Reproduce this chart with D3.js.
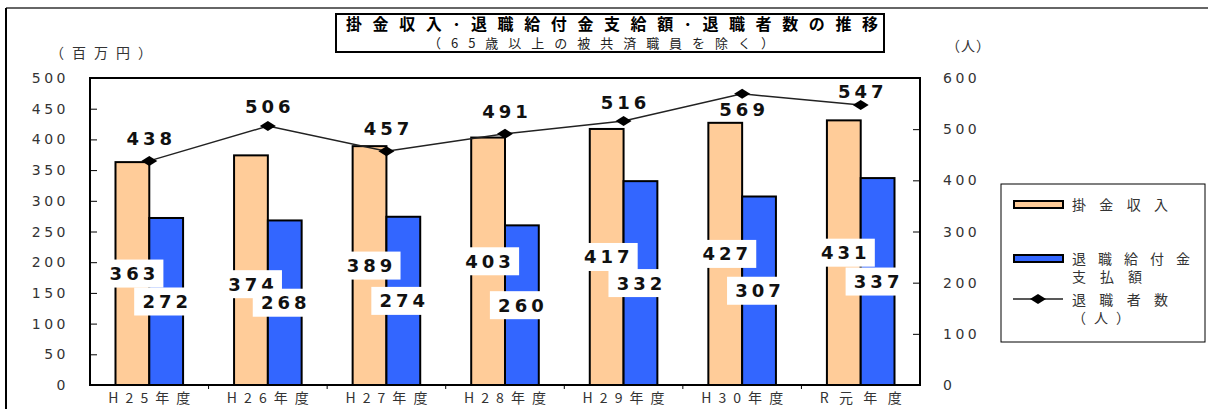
<!DOCTYPE html>
<html>
<head>
<meta charset="utf-8">
<script src="https://cdn.jsdelivr.net/npm/d3@7/dist/d3.min.js"></script>
<style>
	html,body{margin:0;padding:0;background:#fff;}
	svg{display:block;}
</style>
</head>
<body>
<div id="chart"></div>
<script>
// data
var categories = ["H25年度","H26年度","H27年度","H28年度","H29年度","H30年度","R元年度"];
var kakekin = [363,374,389,403,417,427,431];       // 掛金収入 (百万円)
var kyufu = [272,268,274,260,332,307,337];         // 退職給付金支払額 (百万円)
var taishokusha = [438,506,457,491,516,569,547];   // 退職者数 (人)
var leftTicks = [0,50,100,150,200,250,300,350,400,450,500];
var rightTicks = [0,100,200,300,400,500,600];

// layout
var W = 1208, H = 409;
var plot = {left:90, right:920, top:78, bottom:385};
var jp = "'Noto Sans CJK JP', sans-serif";
var num = "'DejaVu Sans', sans-serif";
var orange = "#ffcc99", blue = "#3366ff";
// line label placement (569 sits under its point)
var lineLabelDy = [-22,-20,-23,-22,-18,16,-14];
var barLabelDy = [0,14,0,0,0,0,0];

var svg = d3.select("#chart").append("svg")
	.attr("width",W).attr("height",H)
	.style("font-family",jp);

// outer frame
svg.append("line").attr("x1",6).attr("x2",W).attr("y1",8).attr("y2",8)
	.attr("stroke","#666").attr("stroke-width",2);
svg.append("line").attr("x1",6).attr("x2",6).attr("y1",8).attr("y2",H)
	.attr("stroke","#000").attr("stroke-width",2);

// title
svg.append("rect").attr("x",336).attr("y",14).attr("width",548).attr("height",38)
	.attr("fill","#fff").attr("stroke","#000").attr("stroke-width",2);
svg.append("text").attr("x",612).attr("y",30).attr("text-anchor","middle")
	.attr("textLength",532).attr("lengthAdjust","spacing")
	.style("font-size","16px").style("font-weight","bold")
	.text("掛金収入･退職給付金支給額･退職者数の推移");
svg.append("text").attr("x",601).attr("y",48).attr("text-anchor","middle")
	.attr("textLength",346).attr("lengthAdjust","spacing")
	.style("font-size","13px").attr("fill","#222")
	.text("（65歳以上の被共済職員を除く）");

// units
svg.append("text").attr("x",50).attr("y",58).attr("textLength",102).attr("lengthAdjust","spacing")
	.style("font-size","14px").attr("fill","#333").text("（百万円）");
svg.append("text").attr("x",946).attr("y",51).attr("textLength",44).attr("lengthAdjust","spacing")
	.style("font-size","14px").attr("fill","#333").text("（人）");

// scales
var x = d3.scaleBand().domain(categories).range([plot.left,plot.right]).padding(0);
var yL = d3.scaleLinear().domain([0,500]).range([plot.bottom,plot.top]);
var yR = d3.scaleLinear().domain([0,600]).range([plot.bottom,plot.top]);
var barW = x.bandwidth()*0.285;
var cx = function(d){ return x(d)+x.bandwidth()/2; };

// axes
var gL = svg.append("g").attr("transform","translate("+plot.left+",0)")
	.call(d3.axisRight(yL).tickValues(leftTicks).tickSize(7).tickFormat(""));
var gR = svg.append("g").attr("transform","translate("+plot.right+",0)")
	.call(d3.axisLeft(yR).tickValues(rightTicks).tickSize(7).tickFormat(""));
[gL,gR].forEach(function(g){
	g.select(".domain").remove();
	g.selectAll(".tick line").attr("stroke","#000").attr("stroke-width",1);
});
svg.append("g").selectAll("text").data(leftTicks).join("text")
	.attr("x",69).attr("y",function(d){return yL(d);}).attr("dy","0.36em")
	.attr("text-anchor","end").style("font-family",num).style("font-size","14px")
	.style("letter-spacing","3.5px").attr("fill","#333")
	.text(function(d){return d;});
svg.append("g").selectAll("text").data(rightTicks).join("text")
	.attr("x",943).attr("y",function(d){return yR(d);}).attr("dy","0.36em")
	.attr("text-anchor","start").style("font-family",num).style("font-size","14px")
	.style("letter-spacing","3.5px").attr("fill","#333")
	.text(function(d){return d;});

// category ticks + labels
svg.append("g").selectAll("line").data(categories.slice(1)).join("line")
	.attr("x1",function(d){return x(d);}).attr("x2",function(d){return x(d);})
	.attr("y1",plot.bottom).attr("y2",plot.bottom+4).attr("stroke","#000");
svg.append("g").selectAll("text").data(categories).join("text")
	.attr("x",cx).attr("y",403).attr("text-anchor","middle")
	.attr("textLength",82).attr("lengthAdjust","spacing")
	.style("font-size","14px").attr("fill","#333")
	.text(function(d){return d;});

// bars
svg.append("g").selectAll("rect").data(kakekin).join("rect")
	.attr("x",function(d,i){return cx(categories[i])-barW;})
	.attr("y",function(d){return yL(d);})
	.attr("width",barW).attr("height",function(d){return plot.bottom-yL(d);})
	.attr("fill",orange).attr("stroke","#000").attr("stroke-width",2);
svg.append("g").selectAll("rect").data(kyufu).join("rect")
	.attr("x",function(d,i){return cx(categories[i]);})
	.attr("y",function(d){return yL(d);})
	.attr("width",barW).attr("height",function(d){return plot.bottom-yL(d);})
	.attr("fill",blue).attr("stroke","#000").attr("stroke-width",2);

// plot frame
svg.append("rect").attr("x",plot.left).attr("y",plot.top)
	.attr("width",plot.right-plot.left).attr("height",plot.bottom-plot.top)
	.attr("fill","none").attr("stroke","#000").attr("stroke-width",2);

// bar value labels (white boxes at bar mid-height)
function barLabels(vals,offset,dys){
	var g = svg.append("g").selectAll("g").data(vals).join("g")
		.attr("transform",function(d,i){
			var px = cx(categories[i])+offset;
			var py = (yL(d)+plot.bottom)/2+(dys?dys[i]:0);
			return "translate("+px+","+py+")";
		});
	g.append("rect").attr("x",-31).attr("y",-14).attr("width",62).attr("height",28).attr("fill","#fff");
	g.append("text").attr("text-anchor","middle").attr("dy","0.36em").attr("dx",2)
		.style("font-family",num).style("font-size","18px").style("font-weight","bold")
		.style("letter-spacing","4px").attr("fill","#111")
		.text(function(d){return d;});
}
barLabels(kakekin,-barW/2,barLabelDy);
barLabels(kyufu,barW/2-1,null);

// line
var line = d3.line().x(function(d,i){return cx(categories[i]);}).y(function(d){return yR(d);});
svg.append("path").datum(taishokusha).attr("d",line)
	.attr("fill","none").attr("stroke","#222").attr("stroke-width",1.5);
function diamond(px,py){
	var p = d3.path();
	p.moveTo(px-8,py); p.lineTo(px,py-5); p.lineTo(px+8,py); p.lineTo(px,py+5); p.closePath();
	return p.toString();
}
svg.append("g").selectAll("path").data(taishokusha).join("path")
	.attr("d",function(d,i){return diamond(cx(categories[i]),yR(d));}).attr("fill","#000");
svg.append("g").selectAll("text").data(taishokusha).join("text")
	.attr("x",function(d,i){return cx(categories[i])+2;})
	.attr("y",function(d,i){return yR(d)+lineLabelDy[i];}).attr("dy","0.36em")
	.attr("text-anchor","middle")
	.style("font-family",num).style("font-size","18px").style("font-weight","bold")
	.style("letter-spacing","4px").attr("fill","#111")
	.text(function(d){return d;});

// legend
var lg = svg.append("g");
lg.append("rect").attr("x",1001).attr("y",184).attr("width",204).attr("height",158)
	.attr("fill","#fff").attr("stroke","#000").attr("stroke-width",1);
lg.append("rect").attr("x",1014).attr("y",201).attr("width",49).attr("height",7)
	.attr("fill",orange).attr("stroke","#000").attr("stroke-width",2);
lg.append("rect").attr("x",1014).attr("y",255).attr("width",49).attr("height",7)
	.attr("fill",blue).attr("stroke","#000").attr("stroke-width",2);
lg.append("line").attr("x1",1013).attr("x2",1063).attr("y1",299).attr("y2",299)
	.attr("stroke","#222").attr("stroke-width",1.5);
lg.append("path").attr("d",diamond(1038,299)).attr("fill","#000");
var legendText = [
	{t:"掛金収入",y:205,w:96},
	{t:"退職給付金",y:259,w:118},
	{t:"支払額",y:277,w:70},
	{t:"退職者数",y:300,w:96},
	{t:"（人）",y:318,w:58}
];
lg.selectAll("text").data(legendText).join("text")
	.attr("x",1072).attr("y",function(d){return d.y;}).attr("dy","0.36em")
	.attr("textLength",function(d){return d.w;}).attr("lengthAdjust","spacing")
	.style("font-size","14px").attr("fill","#333")
	.text(function(d){return d.t;});
</script>
</body>
</html>
